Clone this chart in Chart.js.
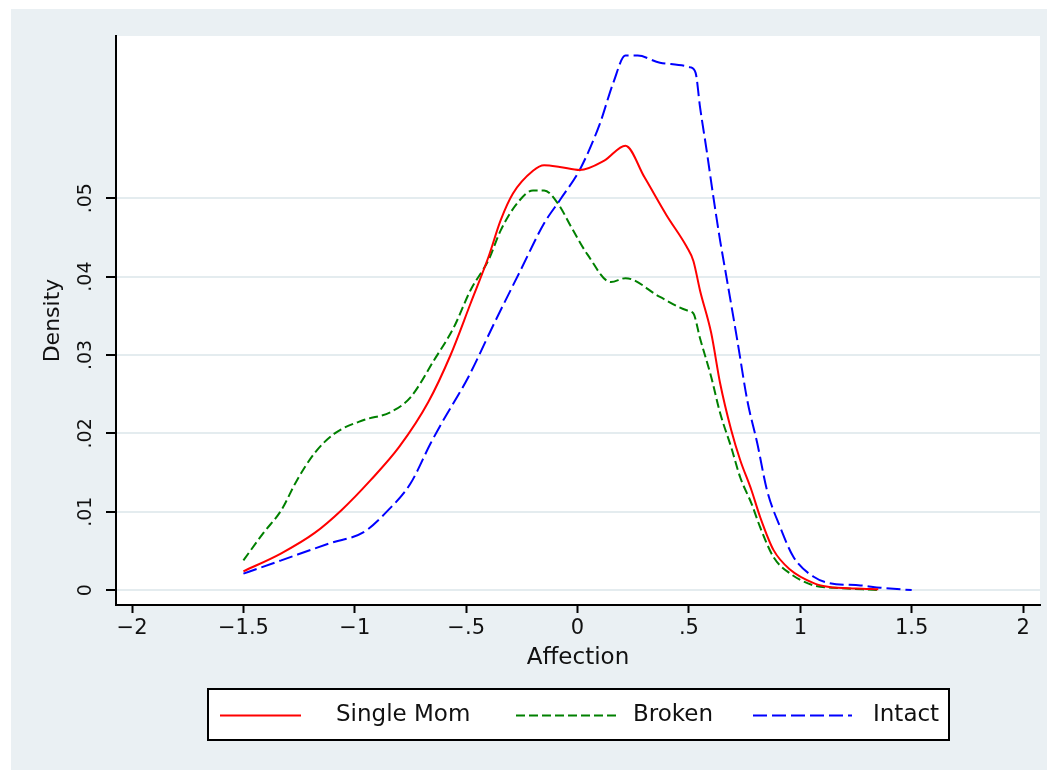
<!DOCTYPE html>
<html>
<head>
<meta charset="utf-8">
<title>Affection density</title>
<script src="https://cdn.jsdelivr.net/npm/chart.js@4"></script>
<style>
  html, body { margin: 0; padding: 0; background: #fff; }
</style>
</head>
<body>
<canvas id="density" width="1047" height="770"></canvas>
<script>
// kernel density of Affection by family type
const singleMomX = [-1.5, -1.33, -1.18, -1.06, -0.93, -0.8, -0.67, -0.57, -0.48, -0.4, -0.345, -0.29, -0.2, -0.15, -0.08, 0.01, 0.12, 0.215, 0.3, 0.4, 0.49, 0.52, 0.55, 0.6, 0.64, 0.69, 0.73, 0.78, 0.82, 0.88, 0.955, 1.06, 1.13, 1.25, 1.35];
const singleMomY = [0.0024, 0.0047, 0.0073, 0.0102, 0.014, 0.0183, 0.024, 0.03, 0.0366, 0.0425, 0.0472, 0.0506, 0.0535, 0.0542, 0.054, 0.0536, 0.0548, 0.0567, 0.0527, 0.0478, 0.0438, 0.042, 0.0382, 0.0328, 0.0264, 0.0204, 0.0166, 0.0128, 0.0093, 0.0051, 0.0026, 0.0009, 0.0004, 0.0002, 0.0001];

const brokenX = [-1.5, -1.41, -1.33, -1.26, -1.18, -1.09, -0.96, -0.84, -0.75, -0.645, -0.556, -0.48, -0.4, -0.345, -0.27, -0.2, -0.15, -0.09, -0.02, 0.045, 0.15, 0.215, 0.37, 0.49, 0.52, 0.55, 0.6, 0.64, 0.69, 0.73, 0.78, 0.82, 0.88, 0.955, 1.06, 1.15, 1.28, 1.35];
const brokenY = [0.0038, 0.0073, 0.0102, 0.014, 0.0175, 0.02, 0.0217, 0.0227, 0.0246, 0.0293, 0.0335, 0.0383, 0.0421, 0.0459, 0.0494, 0.051, 0.051, 0.0494, 0.0459, 0.0428, 0.0393, 0.0398, 0.0374, 0.0357, 0.0353, 0.0321, 0.0272, 0.0226, 0.0182, 0.0144, 0.0111, 0.008, 0.0042, 0.0021, 0.0006, 0.0003, 0.0001, 0.0];

const intactX = [-1.5, -1.33, -1.11, -0.96, -0.85, -0.75, -0.66, -0.61, -0.49, -0.375, -0.256, -0.15, -0.076, 0.013, 0.1, 0.16, 0.215, 0.27, 0.37, 0.507, 0.53, 0.55, 0.58, 0.61, 0.64, 0.67, 0.717, 0.762, 0.807, 0.85, 0.91, 0.97, 1.06, 1.13, 1.27, 1.36, 1.5];
const intactY = [0.0021, 0.0038, 0.006, 0.0074, 0.0102, 0.0136, 0.0187, 0.0213, 0.0272, 0.034, 0.0408, 0.0468, 0.0499, 0.0538, 0.0595, 0.0647, 0.0682, 0.0682, 0.0673, 0.0667, 0.066, 0.0616, 0.056, 0.0501, 0.0446, 0.0397, 0.0319, 0.0242, 0.0187, 0.0128, 0.008, 0.0042, 0.0017, 0.0009, 0.0006, 0.0003, 0.0];

const seriesNames = ["Single Mom", "Broken", "Intact"];

const xTickValues = [-2, -1.5, -1, -0.5, 0, 0.5, 1, 1.5, 2];
const xTickLabels = ["\u22122", "\u22121.5", "\u22121", "\u2212.5", "0", ".5", "1", "1.5", "2"];
const yTickValues = [0, 0.01, 0.02, 0.03, 0.04, 0.05];
const yTickLabels = ["0", ".01", ".02", ".03", ".04", ".05"];

const FONT = "'DejaVu Sans', 'Liberation Sans', sans-serif";

function toPoints(xs, ys) {
  return xs.map((x, i) => ({ x: x, y: ys[i] }));
}

function labelFor(values, labels, v) {
  let i = values.findIndex((t) => Math.abs(t - v) < 1e-9);
  return i >= 0 ? labels[i] : "";
}

const backdrop = {
  id: "backdrop",
  beforeDraw(chart) {
    const c = chart.ctx;
    const a = chart.chartArea;
    c.save();
    c.fillStyle = "#fff";
    c.fillRect(0, 0, chart.width, chart.height);
    c.fillStyle = "#eaf0f3";
    c.fillRect(11, 9, chart.width - 11, chart.height - 9);
    c.fillStyle = "#fff";
    c.fillRect(a.left, a.top, a.right - a.left, a.bottom - a.top);
    c.restore();
  },
};

// Stata style legend: one boxed row under the axis title
const boxLegend = {
  id: "boxLegend",
  afterDraw(chart) {
    const c = chart.ctx;
    const a = chart.chartArea;
    const w = 741, h = 51, top = 689;
    const left = Math.round((a.left + a.right) / 2 - w / 2);
    const slots = [[12, 93, 128], [308, 408, 425], [545, 644, 665]];
    c.save();
    c.fillStyle = "#fff";
    c.fillRect(left, top, w, h);
    c.strokeStyle = "#000";
    c.lineWidth = 2;
    c.strokeRect(left, top, w, h);
    const mid = top + h / 2 + 1;
    chart.data.datasets.forEach((ds, i) => {
      const s = slots[i];
      c.beginPath();
      c.setLineDash(ds.borderDash || []);
      c.strokeStyle = ds.borderColor;
      c.lineWidth = 2;
      c.moveTo(left + s[0], mid);
      c.lineTo(left + s[1], mid);
      c.stroke();
      c.setLineDash([]);
      c.fillStyle = "#111";
      c.font = "23px " + FONT;
      c.textBaseline = "middle";
      c.textAlign = "left";
      c.fillText(ds.label, left + s[2], mid);
    });
    c.restore();
  },
};

const ctx = document.getElementById("density").getContext("2d");
const myChart = new Chart(ctx, {
  type: "line",
  data: {
    datasets: [
      {
        label: seriesNames[0],
        data: toPoints(singleMomX, singleMomY),
        borderColor: "#ff0000",
        borderWidth: 2,
      },
      {
        label: seriesNames[1],
        data: toPoints(brokenX, brokenY),
        borderColor: "#008000",
        borderWidth: 2,
        borderDash: [9, 4],
      },
      {
        label: seriesNames[2],
        data: toPoints(intactX, intactY),
        borderColor: "#0000ff",
        borderWidth: 2,
        borderDash: [14, 5],
      },
    ],
  },
  options: {
    responsive: false,
    animation: false,
    events: [],
    layout: { padding: { left: 11, top: 36, right: 7, bottom: 98 } },
    elements: {
      point: { radius: 0 },
      line: { cubicInterpolationMode: "monotone", fill: false },
    },
    plugins: {
      legend: { display: false },
      tooltip: { enabled: false },
    },
    scales: {
      x: {
        type: "linear",
        min: -2.072,
        max: 2.076,
        afterBuildTicks: (scale) => {
          scale.ticks = xTickValues.map((v) => ({ value: v }));
        },
        afterFit: (scale) => {
          scale.height = 67;
        },
        border: { display: true, color: "#000", width: 2 },
        grid: {
          drawOnChartArea: false,
          drawTicks: true,
          tickLength: 8,
          tickColor: "#000",
          tickWidth: 2,
        },
        ticks: {
          color: "#111",
          padding: 3,
          maxRotation: 0,
          font: { family: FONT, size: 21 },
          callback: (v) => labelFor(xTickValues, xTickLabels, v),
        },
        title: {
          display: true,
          text: "Affection",
          color: "#111",
          padding: { top: 0, bottom: 0 },
          font: { family: FONT, size: 23 },
        },
      },
      y: {
        type: "linear",
        min: -0.0019,
        max: 0.0707,
        afterBuildTicks: (scale) => {
          scale.ticks = yTickValues.map((v) => ({ value: v }));
        },
        afterFit: (scale) => {
          scale.width = 105;
        },
        border: { display: true, color: "#000", width: 2 },
        grid: {
          color: "#e4ecef",
          lineWidth: 2,
          drawTicks: true,
          tickLength: 10,
          tickColor: "#000",
          tickWidth: 2,
        },
        ticks: {
          color: "#111",
          padding: 5,
          minRotation: 90,
          maxRotation: 90,
          crossAlign: "center",
          font: { family: FONT, size: 19 },
          callback: (v) => labelFor(yTickValues, yTickLabels, v),
        },
        title: {
          display: true,
          text: "Density",
          color: "#111",
          padding: { top: 29, bottom: 0 },
          font: { family: FONT, size: 22 },
        },
      },
    },
  },
  plugins: [backdrop, boxLegend],
});
</script>
</body>
</html>
